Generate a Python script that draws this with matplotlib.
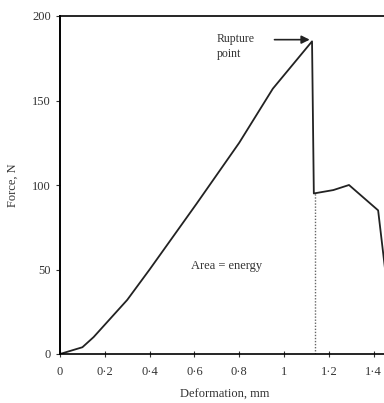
import matplotlib
matplotlib.use("Agg")
import matplotlib.pyplot as plt

# force-deformation curve
deformacao = [0, 0.1, 0.15, 0.3, 0.4, 0.61, 0.8, 0.95, 1.125, 1.133, 1.22, 1.29, 1.42, 1.46]
forca = [0, 4, 10, 32, 50, 89, 125, 157, 185, 95, 97, 100, 85, 40]

ponto_ruptura = (1.127, 186)
x_tracejado = 1.138
y_tracejado = 95

xticks = [0, 0.2, 0.4, 0.6, 0.8, 1.0, 1.2, 1.4]
xtick_labels = ["0", "0·2", "0·4", "0·6", "0·8", "1", "1·2", "1·4"]
yticks = [0, 50, 100, 150, 200]

plt.rcParams['font.family'] = ['Liberation Serif', 'DejaVu Serif']
plt.rcParams['font.size'] = 9

fig = plt.figure(figsize=(3.84, 4.03), dpi=100)
ax = fig.add_axes([60 / 384, 49 / 403, 330 / 384, 338 / 403])

ax.plot(deformacao, forca, color='#222222', lw=1.3)
ax.plot([x_tracejado, x_tracejado], [0, y_tracejado], color='#666666', lw=1.0, ls=(0, (1, 1.2)))

ax.annotate("", xy=ponto_ruptura, xytext=(0.945, 186),
            arrowprops=dict(arrowstyle='-|>', color='#222222', lw=1.2, mutation_scale=12))
ax.text(0.70, 182, "Rupture\npoint", ha='left', va='center', color='#333333', fontsize=8.5, linespacing=1.3)
ax.text(0.745, 52, "Area = energy", ha='center', va='center', color='#333333', fontsize=9)

ax.set_xlim(0, 1.473)
ax.set_ylim(0, 200)
ax.set_xticks(xticks)
ax.set_xticklabels(xtick_labels)
ax.set_yticks(yticks)
ax.tick_params(axis='x', direction='inout', length=5, width=0.8, pad=6, colors='#333333')
ax.tick_params(axis='y', direction='out', length=3, width=0.8, colors='#333333')

ax.spines['left'].set_linewidth(1.4)
ax.spines['bottom'].set_linewidth(1.2)
ax.spines['top'].set_linewidth(1.2)
ax.spines['right'].set_visible(False)

ax.set_xlabel("Deformation, mm", color='#333333', labelpad=8)
ax.set_ylabel("Force, N", color='#333333', labelpad=10)

fig.savefig("out.png", dpi=100)
